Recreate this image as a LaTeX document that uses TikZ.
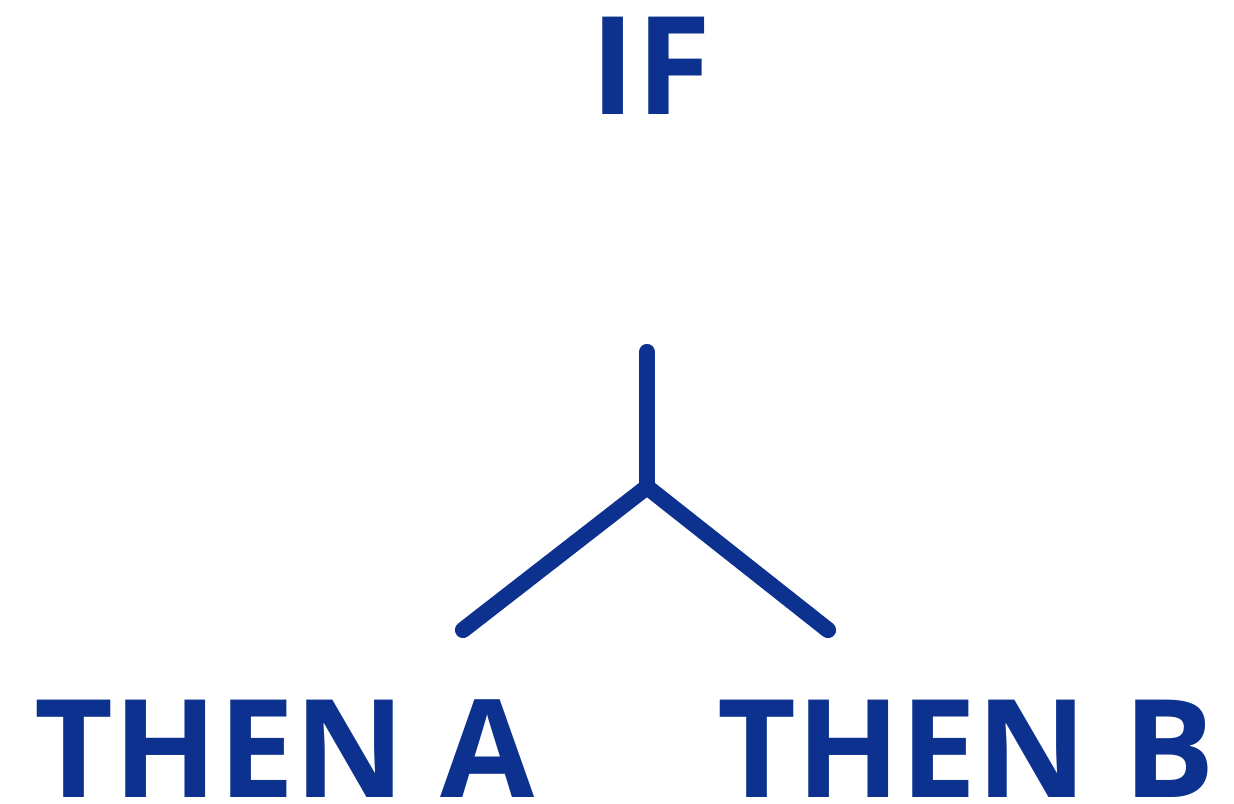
\documentclass[tikz,border=0pt]{standalone}
\usepackage{fontspec}
\setmainfont{Open Sans}
\usepackage{tikz}
\usetikzlibrary{positioning}
\definecolor{ifBlue}{RGB}{13,49,142}

\begin{document}
\begin{tikzpicture}[x=0.01cm,y=-0.01cm,
    word/.style={anchor=base,inner sep=0pt,text depth=0pt,text=ifBlue,font=\fontsize{38.8}{40}\selectfont\bfseries},
    branch/.style={draw=ifBlue,line width=4.6pt,line cap=round}]
  \useasboundingbox (0,0) rectangle (1234,804);
  % labels
  \node[word] (if) at (651,115) {IF};
  \node[word] (thenA) at (285,797) {THEN A};
  \node[word] (thenB) at (966,797) {THEN B};
  % fork
  \coordinate (stem) at (647,352);
  \coordinate (fork) at (647,487);
  \coordinate (endA) at (463,630);
  \coordinate (endB) at (828,630);
  \draw[branch] (stem) -- (fork);
  \draw[branch] (fork) -- (endA);
  \draw[branch] (fork) -- (endB);
\end{tikzpicture}
\end{document}
